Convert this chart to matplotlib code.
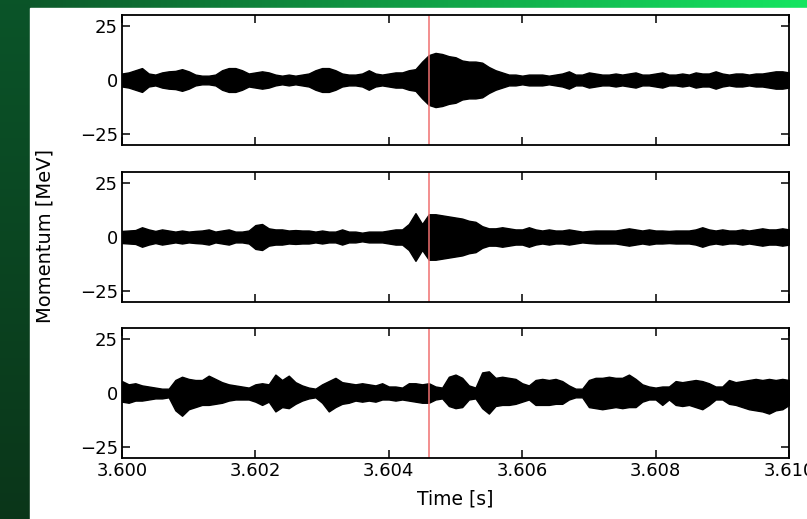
import numpy as np
import matplotlib.pyplot as plt
from matplotlib.patches import Rectangle

# time window and marker
t_start = 3.600
t_step = 0.0001
t_mark = 3.6046

# signal envelopes, one value per 0.1 ms (MeV)
p1_amp = [3.0, 3.5, 4.5, 5.5, 3.0, 2.5, 3.5, 4.0, 4.2, 5.0,
          4.0, 2.5, 2.0, 2.0, 2.5, 4.5, 5.5, 5.5, 4.5, 3.0,
          3.5, 4.0, 3.5, 2.5, 2.0, 2.5, 2.0, 2.5, 3.0, 4.5,
          5.5, 5.5, 4.5, 3.0, 2.5, 2.5, 3.0, 4.5, 3.0, 2.5,
          3.0, 3.5, 3.5, 4.5, 5.0, 8.5, 11.5, 12.5, 12.0, 11.0,
          10.5, 9.0, 8.5, 8.5, 8.0, 6.0, 4.5, 3.5, 2.5, 2.5,
          2.0, 2.5, 2.5, 2.5, 2.0, 2.5, 3.0, 4.0, 2.5, 2.5,
          3.5, 3.0, 2.5, 2.5, 3.0, 2.5, 3.0, 3.5, 2.5, 2.5,
          3.0, 3.5, 2.5, 2.5, 3.0, 2.5, 3.5, 3.0, 3.0, 4.0,
          3.0, 2.5, 3.0, 3.0, 2.5, 3.0, 3.0, 3.5, 4.0, 4.0,
          3.5]
p2_amp = [2.8, 3.0, 3.2, 4.5, 3.5, 2.8, 3.5, 3.0, 2.5, 3.0,
          2.5, 2.8, 3.0, 3.5, 2.5, 3.0, 3.5, 2.5, 2.5, 3.0,
          5.5, 6.0, 4.0, 3.5, 3.5, 3.0, 3.2, 3.0, 3.0, 2.5,
          3.0, 2.5, 2.5, 3.5, 2.5, 2.5, 2.0, 2.5, 2.5, 2.5,
          3.0, 3.5, 3.5, 6.0, 11.0, 6.0, 10.5, 10.5, 10.0, 9.5,
          9.0, 8.5, 7.5, 7.0, 5.0, 4.0, 4.0, 4.5, 4.0, 3.5,
          3.5, 4.5, 3.5, 3.0, 3.5, 3.0, 3.0, 3.5, 3.0, 2.5,
          2.8, 3.0, 3.0, 3.0, 3.0, 3.5, 4.0, 3.5, 3.0, 3.5,
          3.0, 3.0, 2.8, 3.0, 3.0, 3.0, 3.5, 4.5, 3.5, 3.0,
          3.5, 3.0, 3.0, 3.5, 3.0, 3.5, 4.0, 3.5, 3.5, 4.0,
          3.5]
p3_top = [5.5, 4.0, 4.5, 3.5, 3.0, 2.5, 2.0, 2.0, 6.0, 7.5,
          6.5, 6.0, 6.0, 8.0, 6.5, 5.0, 4.0, 3.5, 3.0, 2.5,
          4.0, 4.5, 4.0, 8.5, 6.0, 8.0, 5.0, 3.5, 2.5, 2.0,
          4.0, 5.5, 7.0, 5.0, 4.5, 4.0, 4.5, 4.0, 3.5, 4.5,
          3.0, 3.0, 2.5, 4.5, 4.5, 4.0, 4.5, 3.0, 2.5, 7.5,
          8.5, 7.0, 3.5, 2.5, 9.5, 10.0, 7.0, 7.5, 7.0, 6.5,
          4.5, 3.5, 6.0, 6.5, 6.0, 6.5, 5.5, 3.5, 2.0, 2.0,
          6.0, 7.0, 7.0, 7.5, 7.0, 7.0, 8.5, 6.5, 4.0, 3.0,
          2.5, 3.0, 3.0, 5.5, 5.0, 5.5, 6.0, 5.5, 4.5, 3.0,
          3.0, 6.0, 5.0, 5.5, 6.0, 6.5, 6.0, 6.5, 6.0, 6.5,
          6.0]
p3_bot = [-4.0, -4.5, -3.5, -3.5, -3.0, -2.5, -2.5, -2.0, -8.0, -10.5,
          -7.5, -6.5, -5.5, -5.5, -5.0, -4.5, -3.5, -3.0, -3.0, -3.0,
          -4.0, -5.5, -4.0, -8.5, -6.5, -7.0, -5.0, -3.5, -2.5, -2.0,
          -4.5, -8.5, -6.5, -5.0, -4.5, -3.5, -4.0, -3.5, -4.0, -3.0,
          -3.0, -3.5, -3.0, -3.5, -4.0, -4.5, -4.5, -3.0, -2.5, -6.0,
          -7.0, -6.5, -3.0, -2.5, -7.0, -9.5, -6.0, -5.5, -5.5, -5.0,
          -4.0, -3.0, -5.5, -5.5, -5.5, -5.0, -5.0, -3.0, -2.0, -2.0,
          -6.5, -7.0, -7.5, -7.0, -6.5, -7.0, -6.5, -6.5, -4.0, -3.0,
          -3.0, -5.5, -3.0, -5.5, -6.0, -5.5, -6.5, -7.5, -5.5, -3.0,
          -3.0, -5.0, -5.5, -6.5, -7.5, -8.0, -8.5, -9.5, -8.0, -7.5,
          -5.5]

xticks = [3.600, 3.602, 3.604, 3.606, 3.608, 3.610]
xticklabels = ['3.600', '3.602', '3.604', '3.606', '3.608', '3.610']
yticks = [-25, 0, 25]

t = t_start + t_step * np.arange(len(p1_amp))
envelopes = [
    (np.array(p1_amp), -np.array(p1_amp)),
    (np.array(p2_amp), -np.array(p2_amp)),
    (np.array(p3_top), np.array(p3_bot)),
]

plt.rcParams['font.family'] = 'DejaVu Sans'
plt.rcParams['font.size'] = 13

fig = plt.figure(figsize=(8.07, 5.19), dpi=100)

# green slide background
bg = fig.add_axes([0, 0, 1, 1], zorder=-10)
bg.set_xlim(0, 807)
bg.set_ylim(519, 0)
bg.axis('off')
grad = np.linspace(0, 1, 256)
top_cols = np.array([[0.05 + 0.03 * g, 0.33 + 0.57 * g, 0.16 + 0.22 * g] for g in grad])
bg.imshow(top_cols[np.newaxis, :, :], extent=(0, 807, 9, 0), aspect='auto')
side = np.array([[[0.04, 0.33 - 0.12 * g, 0.16 - 0.06 * g]] for g in grad])
bg.imshow(side, extent=(0, 30, 519, 0), aspect='auto')
bg.add_patch(Rectangle((30, 8), 780, 512, color='white', zorder=2))

left, width = 122 / 807, 667 / 807
tops = [15, 172, 328]
axes = []
for k, top in enumerate(tops):
    ax = fig.add_axes([left, (519 - top - 130) / 519, width, 130 / 519])
    hi, lo = envelopes[k]
    ax.fill_between(t, lo, hi, color='black', lw=1.0, edgecolor='black')
    ax.axvline(t_mark, color='#f07070', lw=1.1)
    ax.set_xlim(3.600, 3.610)
    ax.set_ylim(-30, 30)
    ax.set_xticks(xticks)
    ax.set_yticks(yticks)
    ax.tick_params(direction='in', length=6, width=1.1, top=True, right=True,
                   labelsize=13, pad=3)
    for s in ax.spines.values():
        s.set_linewidth(1.3)
    if k < 2:
        ax.tick_params(labelbottom=False)
    axes.append(ax)

axes[-1].set_xticklabels(xticklabels)
axes[-1].set_xlabel('Time [s]', labelpad=7, fontsize=13.5)
fig.text(45 / 807, (519 - 236) / 519, 'Momentum [MeV]', rotation=90,
         ha='center', va='center', fontsize=14)

fig.savefig('out.png', dpi=100)
